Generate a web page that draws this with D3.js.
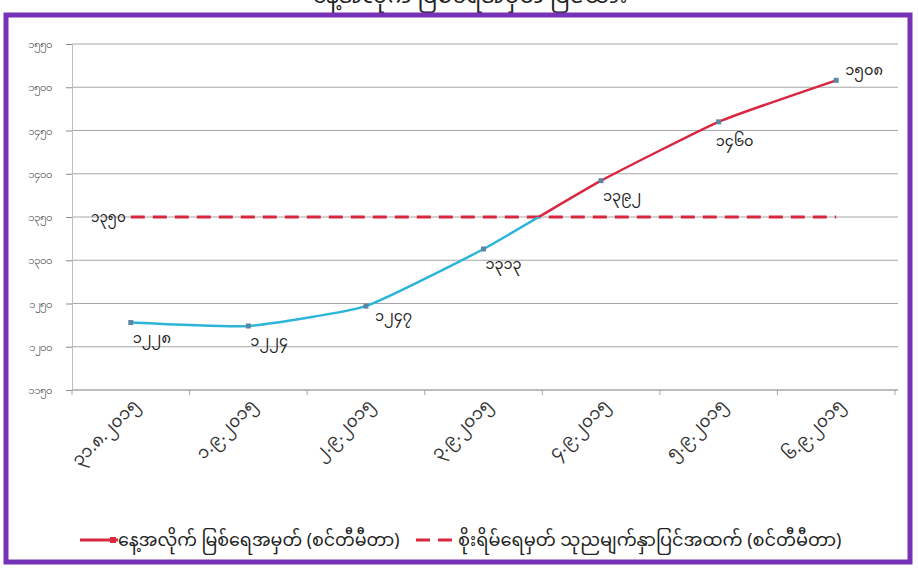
<!DOCTYPE html>
<html>
<head>
<meta charset="utf-8">
<script src="https://cdn.jsdelivr.net/npm/d3@7"></script>
<style>
  html, body { margin: 0; padding: 0; background: #fff; }
  #chart { width: 918px; height: 570px; }
  svg { display: block; font-family: "Noto Sans Myanmar", "Padauk", "Myanmar Text", "Noto Sans", sans-serif; }
  .axis text { fill: #333; }
</style>
</head>
<body>
<div id="chart"></div>
<script>
const titleText = "နေ့အလိုက် မြစ်ရေအမှတ် ပြဇယား";
const dates = [
  "၃၁.၈.၂၀၁၅", "၁.၉.၂၀၁၅", "၂.၉.၂၀၁၅", "၃.၉.၂၀၁၅",
  "၄.၉.၂၀၁၅", "၅.၉.၂၀၁၅", "၆.၉.၂၀၁၅",
];
const levels = [1228, 1224, 1247, 1313, 1392, 1460, 1508];
const dangerLevel = 1350;
const yTicks = [1150, 1200, 1250, 1300, 1350, 1400, 1450, 1500, 1550];
const seriesNames = [
  "နေ့အလိုက် မြစ်ရေအမှတ် (စင်တီမီတာ)",
  "စိုးရိမ်ရေမှတ် သုညမျက်နှာပြင်အထက် (စင်တီမီတာ)",
];

const mmDigits = "၀၁၂၃၄၅၆၇၈၉";
const toMM = (n) => String(n).replace(/[0-9]/g, (c) => mmDigits[+c]);

class RiverLevelChart {
  constructor({ el }) {
    this.el = el;
    this.width = 918;
    this.height = 570;
    this.margin = { top: 44, right: 20, bottom: 180, left: 72 };
    this.lowColor = "#2cb5d9";
    this.highColor = "#d9273f";
    this.init();
  }

  init() {
    this.svg = d3.select(this.el).append("svg")
      .attr("width", this.width)
      .attr("height", this.height)
      .attr("viewBox", [0, 0, this.width, this.height]);

    this.x = d3.scaleBand()
      .domain(dates)
      .range([this.margin.left, 895]);
    this.y = d3.scaleLinear()
      .domain([1150, 1550])
      .range([390, this.margin.top]);

    this.renderFrame();
    this.renderAxes();
    this.renderDanger();
    this.renderLine();
    this.renderLegend();
  }

  renderFrame() {
    // title sits mostly above the visible area, like in the source picture
    this.svg.append("text")
      .attr("x", 470)
      .attr("y", 3)
      .attr("text-anchor", "middle")
      .attr("font-size", 22)
      .attr("fill", "#222")
      .text(titleText);

    this.svg.append("rect")
      .attr("x", 6)
      .attr("y", 15)
      .attr("width", 904)
      .attr("height", 547)
      .attr("fill", "#fff")
      .attr("stroke", "#7631b6")
      .attr("stroke-width", 5);
  }

  renderAxes() {
    const gGrid = this.svg.append("g");
    gGrid.selectAll("line")
      .data(yTicks)
      .join("line")
      .attr("x1", this.margin.left)
      .attr("x2", 898)
      .attr("y1", (d) => this.y(d))
      .attr("y2", (d) => this.y(d))
      .attr("stroke", "#a6a6a6")
      .attr("stroke-width", 1);

    this.svg.append("g")
      .attr("class", "axis axis--y")
      .attr("transform", `translate(${this.margin.left},0)`)
      .call(d3.axisLeft(this.y).tickValues(yTicks).tickSize(6).tickPadding(14).tickFormat(toMM))
      .call((g) => g.select(".domain").attr("stroke", "#bdbdbd"))
      .call((g) => g.selectAll(".tick line").attr("stroke", "#8c8c8c"))
      .call((g) => g.selectAll("text").attr("font-size", 11.5));

    const gX = this.svg.append("g")
      .attr("class", "axis axis--x")
      .attr("transform", `translate(0,${this.y(1150)})`);
    gX.append("line")
      .attr("x1", this.margin.left)
      .attr("x2", 898)
      .attr("stroke", "#a6a6a6");
    gX.selectAll(".tickmark")
      .data(dates.concat(["end"]))
      .join("line")
      .attr("class", "tickmark")
      .attr("x1", (d, i) => this.margin.left + i * this.x.step())
      .attr("x2", (d, i) => this.margin.left + i * this.x.step())
      .attr("y2", 5)
      .attr("stroke", "#a6a6a6");
    gX.selectAll(".label")
      .data(dates)
      .join("text")
      .attr("class", "label")
      .attr("transform", (d) => `translate(${this.x(d) + this.x.bandwidth() / 2 + 9},${16}) rotate(-45)`)
      .attr("text-anchor", "end")
      .attr("font-size", 17)
      .attr("fill", "#1a1a1a")
      .text((d) => d);
  }

  renderDanger() {
    const first = this.x(dates[0]) + this.x.bandwidth() / 2;
    const last = this.x(dates[dates.length - 1]) + this.x.bandwidth() / 2;
    this.svg.append("line")
      .attr("x1", first)
      .attr("x2", last)
      .attr("y1", this.y(dangerLevel))
      .attr("y2", this.y(dangerLevel))
      .attr("stroke", this.highColor)
      .attr("stroke-width", 3)
      .attr("stroke-dasharray", "14,8");
    this.svg.append("text")
      .attr("x", first - 5)
      .attr("y", this.y(dangerLevel))
      .attr("dy", "0.35em")
      .attr("text-anchor", "end")
      .attr("font-size", 13.5)
      .attr("fill", "#222")
      .text(toMM(dangerLevel));
  }

  renderLine() {
    const cx = (d, i) => this.x(dates[i]) + this.x.bandwidth() / 2;
    const line = d3.line()
      .x(cx)
      .y((d) => this.y(d))
      .curve(d3.curveCardinal.tension(0.55));
    const yCut = this.y(dangerLevel);

    const defs = this.svg.append("defs");
    defs.append("clipPath").attr("id", "clip-high")
      .append("rect").attr("x", 0).attr("y", 0).attr("width", this.width).attr("height", yCut);
    defs.append("clipPath").attr("id", "clip-low")
      .append("rect").attr("x", 0).attr("y", yCut).attr("width", this.width).attr("height", this.height);

    [["clip-low", this.lowColor], ["clip-high", this.highColor]].forEach(([id, color]) => {
      this.svg.append("path")
        .datum(levels)
        .attr("clip-path", `url(#${id})`)
        .attr("fill", "none")
        .attr("stroke", color)
        .attr("stroke-width", 2.5)
        .attr("d", line);
    });

    this.svg.append("g")
      .selectAll("rect")
      .data(levels)
      .join("rect")
      .attr("x", (d, i) => cx(d, i) - 2.5)
      .attr("y", (d) => this.y(d) - 2.5)
      .attr("width", 5)
      .attr("height", 5)
      .attr("fill", "#5b87a3");

    // labels mostly sit below-right of the point
    const offset = (i) => {
      if (i === levels.length - 1) return [9, -10];
      if (i === levels.length - 2) return [-3, 19];
      if (i === 2) return [9, 10];
      return [2, 15];
    };
    this.svg.append("g")
      .selectAll("text")
      .data(levels)
      .join("text")
      .attr("x", (d, i) => cx(d, i) + offset(i)[0])
      .attr("y", (d, i) => this.y(d) + offset(i)[1])
      .attr("dy", "0.35em")
      .attr("font-size", 14.5)
      .attr("fill", "#222")
      .text(toMM);
  }

  renderLegend() {
    const g = this.svg.append("g").attr("transform", "translate(0,540)");
    g.append("line")
      .attr("x1", 80).attr("x2", 118)
      .attr("stroke", this.highColor).attr("stroke-width", 3);
    g.append("rect")
      .attr("x", 110).attr("y", -3).attr("width", 6).attr("height", 6)
      .attr("fill", this.highColor);
    g.append("text")
      .attr("x", 118).attr("dy", "0.35em")
      .attr("font-size", 17.5).attr("fill", "#222")
      .text(seriesNames[0]);

    g.append("line")
      .attr("x1", 416).attr("x2", 456)
      .attr("stroke", this.highColor).attr("stroke-width", 3)
      .attr("stroke-dasharray", "14,8");
    g.append("text")
      .attr("x", 458).attr("dy", "0.35em")
      .attr("font-size", 17.8).attr("fill", "#222")
      .text(seriesNames[1]);
  }
}

new RiverLevelChart({ el: document.getElementById("chart") });
</script>
</body>
</html>
